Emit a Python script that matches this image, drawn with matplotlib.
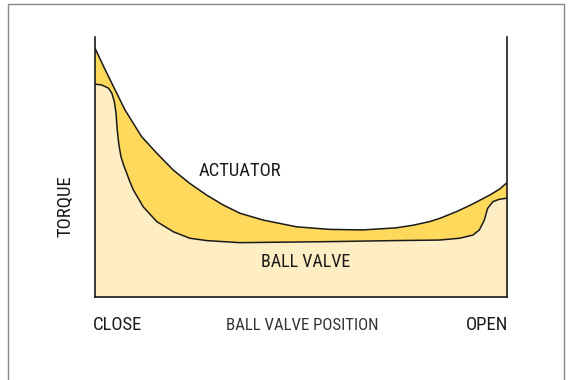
import numpy as np
import matplotlib
matplotlib.use("Agg")
import matplotlib.pyplot as plt
from matplotlib.patches import Rectangle

plt.rcParams['font.family'] = ['Roboto Condensed', 'Archivo Narrow',
                               'PT Sans Narrow', 'DejaVu Sans']

# valve position (0 = close, 100 = open) and torque
actuator_x = [0, 2.5, 4.9, 7.3, 9.3, 11.3, 15.0, 19.0, 23.0, 27.1, 31.1,
              35.2, 40.8, 48.9, 57.0, 65.0, 73.1, 77.2, 81.2, 83.6, 87.7,
              91.7, 95.8, 98.2, 100]
actuator_y = [95.7, 87.3, 79.6, 71.9, 66.8, 61.7, 55.3, 48.8, 43.7, 39.2,
              35.4, 32.2, 29.6, 27.0, 26.0, 25.8, 26.6, 27.6, 29.0, 30.2,
              32.8, 35.8, 39.2, 41.5, 44.0]

ball_x = [0, 1.7, 3.3, 4.1, 4.7, 5.1, 5.4, 5.8, 6.3, 7.0, 7.7, 8.5, 9.3,
          11.7, 15.0, 19.0, 23.0, 27.1, 31.1, 35.2, 57.0, 73.1, 83.6, 88.5,
          91.7, 93.3, 94.5, 95.3, 96.6, 98.2, 100]
ball_y = [81.9, 81.5, 80.3, 78.3, 75.1, 70.7, 64.2, 58.5, 54.0, 50.5, 47.6,
          44.2, 41.2, 34.7, 29.0, 25.1, 22.6, 21.7, 21.3, 20.9, 21.3, 21.7,
          21.9, 22.6, 23.8, 25.8, 29.6, 34.1, 36.7, 37.6, 38.0]

cream = '#FFEEC4'
yellow = '#FFD95C'
ink = '#1a1a1a'

fig = plt.figure(figsize=(5.73, 3.80), dpi=100)
ax = fig.add_axes([95 / 573, 1 - 297 / 380, 412 / 573, 260 / 380])

# light area under the ball valve curve, yellow band up to the actuator
ax.fill_between(ball_x, 0, ball_y, color=cream, lw=0)
ax.fill(np.concatenate([actuator_x, ball_x[::-1]]),
        np.concatenate([actuator_y, ball_y[::-1]]), color=yellow, lw=0)
ax.plot(actuator_x, actuator_y, color=ink, lw=1.1, solid_joinstyle='round')
ax.plot(ball_x, ball_y, color=ink, lw=1.1, solid_joinstyle='round')

ax.set_xlim(0, 100)
ax.set_ylim(0, 100)
ax.set_xticks([])
ax.set_yticks([])
ax.spines['top'].set_visible(False)
for s in ['left', 'right', 'bottom']:
    ax.spines[s].set_linewidth(1.2)
    ax.spines[s].set_color(ink)

ax.text(25.2, 48.5, 'ACTUATOR', fontsize=13.3, color=ink, va='center', ha='left')
ax.text(51.2, 13.5, 'BALL VALVE', fontsize=13, color=ink, va='center', ha='center')

fig.text(65 / 573, 1 - 206 / 380, 'TORQUE', rotation=90, fontsize=13.5,
         color=ink, ha='center', va='center')
fig.text(93 / 573, 1 - 325 / 380, 'CLOSE', fontsize=13.5, color=ink,
         ha='left', va='center')
fig.text(302.5 / 573, 1 - 325 / 380, 'BALL VALVE POSITION', fontsize=12.2,
         color='#333333', ha='center', va='center')
fig.text(508 / 573, 1 - 325 / 380, 'OPEN', fontsize=13.5, color=ink,
         ha='right', va='center')

# frame around the whole picture (bottom edge falls outside the image)
fig.patches.append(Rectangle((8 / 573, -0.05), 556 / 573, 1.05 - 4 / 380,
                             transform=fig.transFigure, fill=False,
                             edgecolor='#888888', lw=1.0))

fig.savefig('out.png', dpi=100)
